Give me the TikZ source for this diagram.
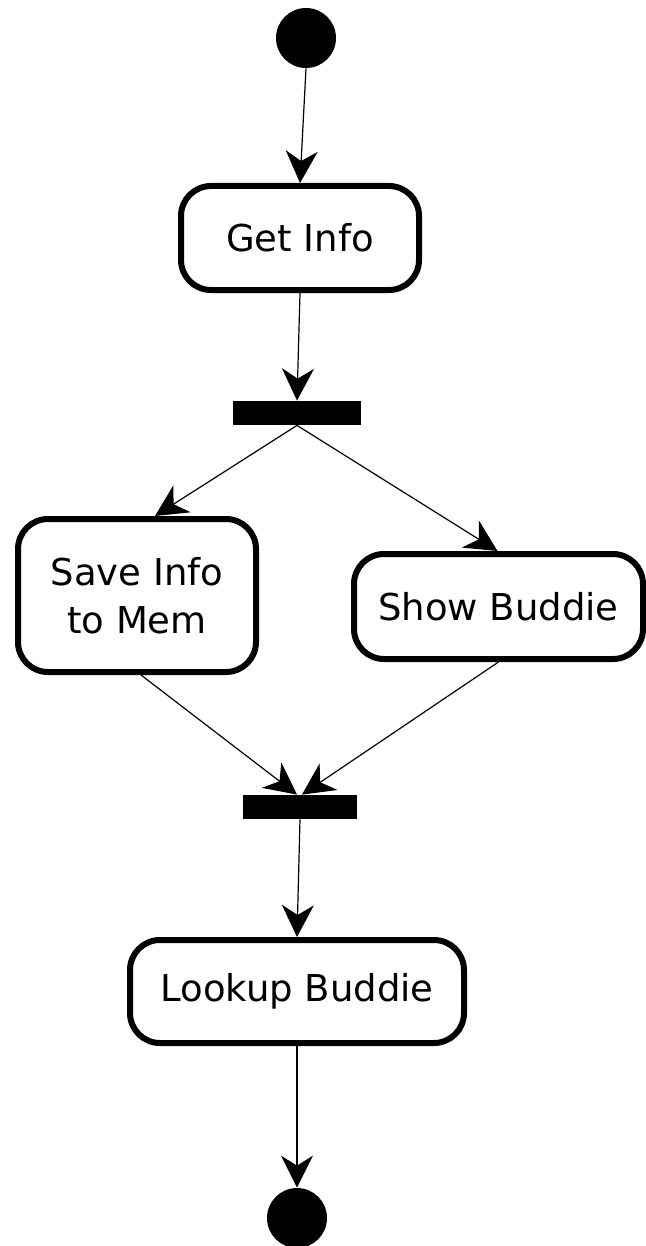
\documentclass[tikz,border=0pt]{standalone}
\usepackage{fontspec}
\setmainfont{DejaVu Sans}
\usetikzlibrary{arrows.meta}
\begin{document}
\begin{tikzpicture}[x=0.5pt,y=-0.5pt,
  activity/.style={draw, line width=3pt, rounded corners=15pt, inner sep=0pt,
    align=center, font=\fontsize{18.5}{24}\selectfont},
  terminal/.style={circle, fill=black, inner sep=0pt, minimum size=30pt},
  syncbar/.style={rectangle, fill=black, inner sep=0pt, minimum height=12pt},
  flow/.style={line width=0.6pt, -{Stealth[length=16pt, width=16pt, inset=5pt]}}]
  \useasboundingbox (0,0) rectangle (646,1246);

  % nodes
  \node[terminal] (start) at (306,38) {};
  \node[activity, minimum width=119pt, minimum height=52pt] (get) at (300,238) {Get Info};
  \node[syncbar, minimum width=64pt] (fork) at (297,413) {};
  \node[activity, minimum width=119pt, minimum height=76.5pt] (save) at (137,595.5) {Save Info\\to Mem};
  \node[activity, minimum width=144.5pt, minimum height=52.5pt] (show) at (498.5,606.5) {Show Buddie};
  \node[syncbar, minimum width=57pt] (join) at (300,807) {};
  \node[activity, minimum width=167pt, minimum height=51.5pt] (look) at (297,991.5) {Lookup Buddie};
  \node[terminal] (stop) at (297,1218) {};

  % connectors
  \draw[flow] (start.south) -- (get.north);
  \draw[flow] (get.south) -- (fork.north);
  \draw[flow] (fork.south) -- ([xshift=9pt]save.north);
  \draw[flow] (fork.south) -- ([xshift=-0.5pt]show.north);
  \draw[flow] ([xshift=2pt]save.south) -- ([xshift=-1.5pt]join.north);
  \draw[flow] (show.south) -- ([xshift=1pt]join.north);
  \draw[flow] (join.south) -- (look.north);
  \draw[flow] (look.south) -- (stop.north);
\end{tikzpicture}
\end{document}
